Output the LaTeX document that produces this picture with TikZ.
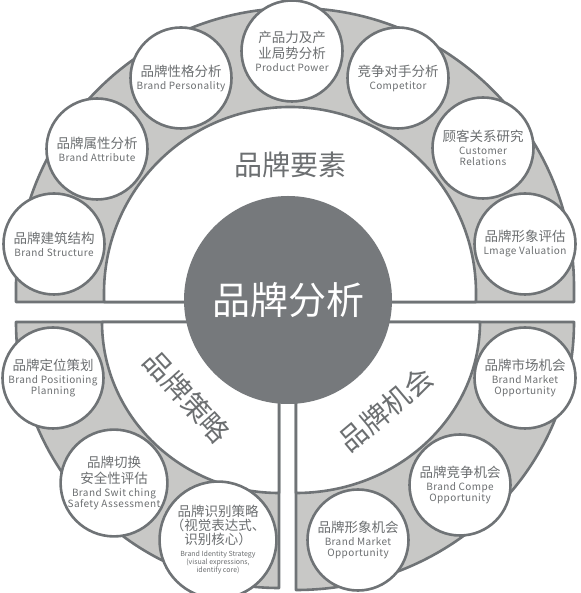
\documentclass[tikz,border=0pt]{standalone}
\usepackage{fontspec}
\setmainfont{Noto Sans CJK SC}
\usetikzlibrary{positioning}

\definecolor{rimline}{HTML}{6F7376}
\definecolor{bandgrey}{HTML}{C8C8C6}
\definecolor{hubgrey}{HTML}{76797C}
\definecolor{labelgrey}{HTML}{6C6F71}

\newcommand{\entext}{\fontsize{10}{11}\selectfont\addfontfeature{LetterSpace=4}}
\newcommand{\entiny}{\fontsize{7}{8}\selectfont}

\begin{document}
\begin{tikzpicture}[x=1pt, y=1pt,
    ring/.style={draw=rimline, line width=2.6pt, fill=bandgrey, line join=round},
    field/.style={draw=rimline, line width=2.6pt, fill=white, line join=round},
    bubble/.style={circle, draw=rimline, line width=2.6pt, fill=white,
      minimum size=101pt, inner sep=0pt, align=center, text=labelgrey,
      font=\fontsize{13.5}{16}\selectfont},
    part/.style={text=labelgrey, font=\fontsize{28}{30}\selectfont},
    hub/.style={circle, fill=hubgrey, minimum size=208pt, inner sep=0pt,
      text=white, font=\fontsize{38}{40}\selectfont}]
  \useasboundingbox (0,0) rectangle (580,593);

  % upper half: brand elements
  \draw[ring] (16,291) -- (16,306)
    arc[start angle=180, end angle=0, radius=279pt] -- (574,291) -- cycle;
  \draw[field] (104,291) -- (104,300)
    arc[start angle=180, end angle=0, radius=186pt] -- (476,291) -- cycle;

  % lower left quarter: brand strategy
  \draw[ring] (279,271) -- (16,271)
    arc[start angle=180, end angle=270, x radius=263pt, y radius=266pt] -- cycle;
  \draw[field] (279,271) -- (102,271)
    arc[start angle=180, end angle=270, x radius=177pt, y radius=171pt] -- cycle;

  % lower right quarter: brand opportunity
  \draw[ring] (296,271) -- (296,3)
    arc[start angle=270, end angle=360, x radius=278pt, y radius=268pt] -- cycle;
  \draw[field] (296,271) -- (296,100)
    arc[start angle=270, end angle=360, x radius=184pt, y radius=171pt] -- cycle;

  % segment titles
  \node[part] (elements) at (290,428) {品牌要素};
  \node[part, rotate=-48] (strategy) at (187,196) {品牌策略};
  \node[part, rotate=40] (chance) at (386,184) {品牌机会};

  % ring of topics, upper half
  \node[bubble] (structure) at (54,349)
    {品牌建筑结构\\[-3pt]{\entext Brand Structure}};
  \node[bubble] (attribute) at (97,444)
    {品牌属性分析\\[-3pt]{\entext Brand Attribute}};
  \node[bubble] (personality) at (181,515)
    {品牌性格分析\\[-3pt]{\entext Brand Personality}};
  \node[bubble] (product) at (292,542)
    {产品力及产\\业局势分析\\[-3pt]{\entext Product Power}};
  \node[bubble] (rival) at (398,515)
    {竞争对手分析\\[-3pt]{\entext Competitor}};
  \node[bubble] (customer) at (483,445)
    {顾客关系研究\\[-3pt]{\entext Customer}\\[-5pt]{\entext Relations}};
  \node[bubble] (image) at (525,349)
    {品牌形象评估\\[-3pt]{\entext Lmage Valuation}};

  % lower left
  \node[bubble] (position) at (53,215)
    {品牌定位策划\\[-3pt]{\entext Brand Positioning}\\[-5pt]{\entext Planning}};
  \node[bubble] (switching) at (114,110)
    {品牌切换\\安全性评估\\[-3pt]{\entext Brand Swit ching}\\[-5pt]{\entext Safety Assessment}};
  \node[bubble] (identity) at (218,53)
    {品牌识别策略\\[-2pt]（视觉表达式、\\[-2pt]识别核心）\\[-4pt]{\entiny Brand Identity Strategy}\\[-8pt]{\entiny (visual expressions,}\\[-8pt]{\entiny identify core)}};

  % lower right
  \node[bubble] (market) at (525,215)
    {品牌市场机会\\[-3pt]{\entext Brand Market}\\[-5pt]{\entext Opportunity}};
  \node[bubble] (compete) at (460,108)
    {品牌竞争机会\\[-3pt]{\entext Brand Compe}\\[-5pt]{\entext Opportunity}};
  \node[bubble] (imagechance) at (358,53)
    {品牌形象机会\\[-3pt]{\entext Brand Market}\\[-5pt]{\entext Opportunity}};

  % centre
  \node[hub] (core) at (288,293) {品牌分析};
\end{tikzpicture}
\end{document}
